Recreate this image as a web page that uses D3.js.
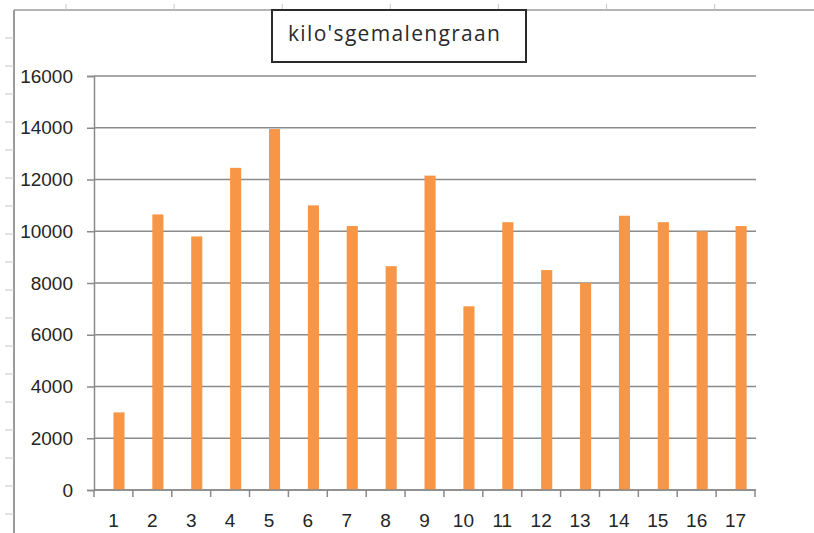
<!DOCTYPE html>
<html>
<head>
<meta charset="utf-8">
<script src="https://cdn.jsdelivr.net/npm/d3@7"></script>
<style>
  body { margin: 0; background: #fff; }
  svg { display: block; }
</style>
</head>
<body>
<svg id="chart" width="814" height="533"></svg>
<script>
// data
const categories = ['1','2','3','4','5','6','7','8','9','10','11','12','13','14','15','16','17']
const seriesNames = ['leeg', "kilo'sgemalengraan"]
const graan = [3000, 10650, 9800, 12450, 13950, 11000, 10200, 8650, 12150, 7100, 10350, 8500, 8000, 10600, 10350, 10000, 10200]
const yTicks = [0, 2000, 4000, 6000, 8000, 10000, 12000, 14000, 16000]
const titleText = "kilo'sgemalengraan"

const svg = d3.select('#chart')
const W = 814, H = 533
const plot = {left: 94, right: 756, top: 76, bottom: 490}
const gridColor = '#8a8a8a'
const textColor = '#252525'

// sheet-like frame (rulers)
svg.append('line')
    .attr('x1', 14).attr('x2', W).attr('y1', 10).attr('y2', 10)
    .attr('stroke', '#b4b4b4').attr('stroke-width', 2)
svg.append('line')
    .attr('x1', 14).attr('x2', 14).attr('y1', 10).attr('y2', H)
    .attr('stroke', '#9a9a9a').attr('stroke-width', 2)
svg.selectAll('.rulerTop')
    .data(d3.range(66, W, 108.1))
    .enter().append('line')
        .attr('x1', d => d).attr('x2', d => d)
        .attr('y1', 4).attr('y2', 10)
        .attr('stroke', '#c8c8c8').attr('stroke-width', 1)
svg.selectAll('.rulerLeft')
    .data(d3.range(38, H, 28))
    .enter().append('line')
        .attr('x1', 5).attr('x2', 14)
        .attr('y1', d => d).attr('y2', d => d)
        .attr('stroke', '#c8c8c8').attr('stroke-width', 1)

// scales
const x = d3.scaleBand()
    .domain(categories)
    .range([plot.left, plot.right - 1])
    .padding(0)

const x1 = d3.scaleBand()
    .domain(seriesNames)
    .range([0, x.bandwidth()])
    .paddingInner(0)
    .paddingOuter(0.75)

const y = d3.scaleLinear()
    .domain([0, 16000])
    .range([plot.bottom, plot.top])

// gridlines
svg.append('g').selectAll('line')
    .data(yTicks)
    .enter().append('line')
        .attr('x1', plot.left).attr('x2', plot.right)
        .attr('y1', d => y(d)).attr('y2', d => y(d))
        .attr('stroke', gridColor).attr('stroke-width', 1.5)

// y axis
const yAxis = d3.axisLeft(y)
    .tickValues(yTicks)
    .tickSize(7)
    .tickPadding(14)
    .tickFormat(d => d)

const yAxisGroup = svg.append('g')
    .attr('transform', `translate(${plot.left},0)`)
    .call(yAxis)
yAxisGroup.select('.domain').attr('stroke', gridColor).attr('stroke-width', 1.5)
yAxisGroup.selectAll('.tick line').attr('stroke', gridColor).attr('stroke-width', 1.5)
yAxisGroup.selectAll('text')
    .attr('fill', textColor)
    .style('font-family', '"Liberation Sans", Arial, sans-serif')
    .style('font-size', '19px')

// bars
svg.append('g').selectAll('rect')
    .data(graan)
    .enter().append('rect')
        .attr('x', (d, i) => x(categories[i]) + x1(seriesNames[1]))
        .attr('y', d => y(d))
        .attr('width', x1.bandwidth())
        .attr('height', d => y(0) - y(d))
        .attr('fill', '#f79646')

// x axis (ticks between categories)
const xAxis = d3.axisBottom(x)
    .tickSize(0)
    .tickPadding(24)

const xAxisGroup = svg.append('g')
    .attr('transform', `translate(0,${plot.bottom})`)
    .call(xAxis)
xAxisGroup.select('.domain').remove()
xAxisGroup.selectAll('text')
    .attr('fill', textColor)
    .style('font-family', '"Liberation Sans", Arial, sans-serif')
    .style('font-size', '19px')

const xBounds = categories.map(c => x(c)).concat([x.range()[1]])
xAxisGroup.append('line')
    .attr('x1', plot.left).attr('x2', x.range()[1])
    .attr('y1', 0).attr('y2', 0)
    .attr('stroke', gridColor).attr('stroke-width', 1.5)
xAxisGroup.selectAll('.xtick')
    .data(xBounds)
    .enter().append('line')
        .attr('x1', d => d).attr('x2', d => d)
        .attr('y1', 0).attr('y2', 7)
        .attr('stroke', gridColor).attr('stroke-width', 1.5)

// title box
svg.append('rect')
    .attr('x', 272).attr('y', 10)
    .attr('width', 254).attr('height', 52)
    .attr('fill', '#fff')
    .attr('stroke', '#2a2a2a').attr('stroke-width', 2)
svg.append('text')
    .attr('x', 288).attr('y', 41)
    .attr('textLength', 212)
    .attr('lengthAdjust', 'spacing')
    .attr('fill', '#2a2a2a')
    .style('font-family', '"Open Sans", sans-serif')
    .style('font-size', '21px')
    .text(titleText)
</script>
</body>
</html>
